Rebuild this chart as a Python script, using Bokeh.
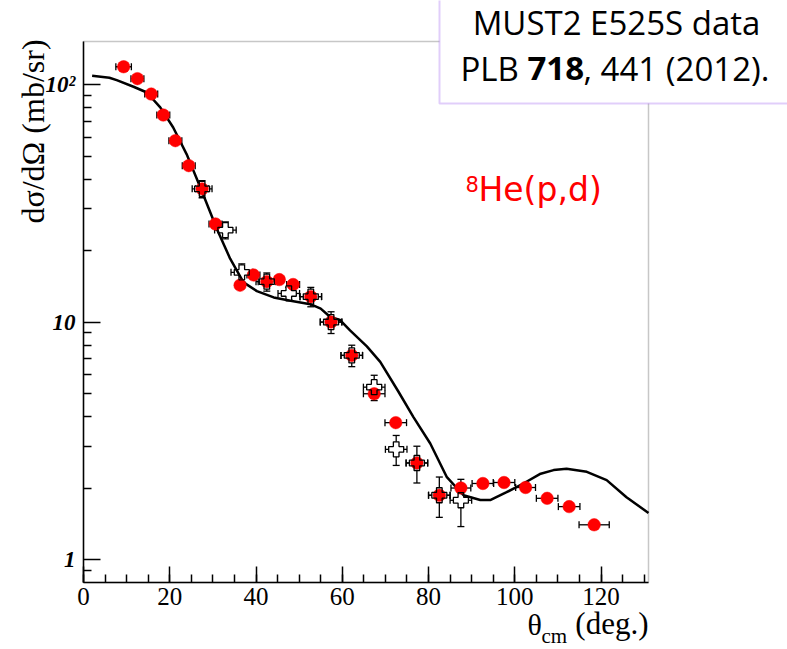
import math
from bokeh.plotting import figure
from bokeh.models import (ColumnDataSource, Whisker, TeeHead, Label, BoxAnnotation,
                          SingleIntervalTicker, FixedTicker)
from bokeh.embed import file_html
from bokeh.resources import INLINE

# ---------------- data ----------------
# red filled circles (MUST2 E525S data)
red_theta = [9.3, 12.5, 15.7, 18.5, 21.3, 24.4, 27.5, 30.6, 36.3, 39.4, 42.5, 45.4, 48.6,
             52.7, 57.4, 62.2, 67.4, 72.4, 77.3, 82.5, 87.5, 92.6, 97.5, 102.5, 107.5, 112.6, 118.4]
red_xs = [119.0, 106.0, 91.3, 74.5, 58.1, 45.6, 36.4, 25.9, 14.3, 15.8, 14.8, 15.1, 14.4,
          12.8, 10.0, 7.24, 4.99, 3.77, 2.55, 1.865, 2.00, 2.09, 2.11, 2.01, 1.81, 1.67, 1.40]
red_theta_err = [1.8, 1.5, 1.5, 1.5, 1.5, 1.5, 1.5, 1.5, 1.0, 1.5, 2.0, 1.0, 1.5,
                 2.5, 2.5, 2.5, 2.5, 2.5, 2.5, 2.5, 2.3, 2.5, 2.5, 2.3, 2.5, 2.5, 3.5]

# open crosses (earlier data)
cross_theta = [27.5, 32.9, 36.7, 42.5, 47.6, 52.7, 57.4, 62.2, 67.4, 72.5, 77.3, 82.5, 87.5]
cross_xs = [36.4, 24.4, 16.2, 14.8, 13.2, 12.8, 10.0, 7.24, 5.32, 2.91, 2.55, 1.865, 1.776]
cross_xs_err = [3.0, 2.0, 1.4, 1.3, 0.8, 1.2, 1.05, 0.75, 0.65, 0.42, 0.45, 0.36, 0.40]
cross_theta_err = [2.3, 2.5, 2.5, 2.5, 2.5, 2.5, 2.5, 2.5, 2.5, 2.5, 2.5, 2.5, 2.5]

# theory curve
curve_theta = [2.0, 6.0, 7.7, 11.6, 14.7, 17.8, 20.8, 23.9, 25.5, 27.1, 31.0, 34.0, 37.1,
               40.2, 44.1, 48.0, 52.6, 55.0, 57.2, 59.5, 61.8, 65.7, 68.8, 73.0, 76.5,
               80.4, 84.2, 88.1, 92.0, 94.3, 98.1, 102.0, 105.8, 109.0, 112.0, 116.7,
               121.3, 125.9, 131.0]
curve_xs = [109.0, 107.0, 104.5, 98.0, 92.7, 80.2, 66.0, 51.0, 43.4, 36.9, 24.5, 18.5, 14.7,
            13.5, 12.7, 12.3, 11.9, 11.4, 10.5, 10.2, 9.22, 7.9, 6.8, 5.1, 3.98,
            3.08, 2.23, 1.865, 1.78, 1.78, 1.92, 2.09, 2.29, 2.38, 2.41, 2.34,
            2.16, 1.83, 1.57]

x_major_interval = 20
y_major_ticks = [1, 10, 100]
y_tick_labels = {1: "1", 10: "10", 100: "10\u00b2"}
x_bounds = (0, 131)        # axis extent (plot box)
y_bounds = (0.8, 152)

# ---------------- layout geometry (canvas pixels) ----------------
W, H = 787, 649
box_l, box_r, box_t, box_b = 83, 648, 41, 582      # plot box inside the canvas
sx = (box_r - box_l) / (x_bounds[1] - x_bounds[0])
x_view = (x_bounds[0] - box_l / sx, x_bounds[1] + (W - box_r) / sx)
dec = (box_b - box_t) / (math.log10(y_bounds[1]) - math.log10(y_bounds[0]))
y_view = (10 ** (math.log10(y_bounds[0]) - (H - box_b) / dec),
          10 ** (math.log10(y_bounds[1]) + box_t / dec))

p = figure(frame_width=W, frame_height=H, min_border=0,
           x_range=x_view, y_range=y_view, y_axis_type="log",
           output_backend="svg", toolbar_location=None)
p.grid.visible = False
p.outline_line_color = None
p.background_fill_color = "white"
p.border_fill_color = "white"

# plot box (top / right edges)
p.add_layout(BoxAnnotation(left=x_bounds[0], right=x_bounds[1], bottom=y_bounds[0], top=y_bounds[1],
                           fill_alpha=0, line_color="#444444", line_width=1.5, level="underlay"))

# x axis
xa = p.xaxis[0]
xa.fixed_location = y_bounds[0]
xa.bounds = x_bounds
xa.ticker = SingleIntervalTicker(interval=x_major_interval, num_minor_ticks=4)
xa.major_tick_in = 16
xa.major_tick_out = 0
xa.minor_tick_in = 8
xa.minor_tick_out = 0
xa.axis_line_color = "black"
xa.axis_line_width = 1.5
xa.major_tick_line_width = 1.5
xa.minor_tick_line_width = 1.5
xa.major_label_text_font = "Liberation Serif"
xa.major_label_text_font_size = "25px"
xa.major_label_text_color = "black"
xa.major_label_standoff = 5

# y axis
ya = p.yaxis[0]
ya.fixed_location = x_bounds[0]
ya.bounds = y_bounds
minor = [m * 10 ** k for k in (-1, 0, 1, 2) for m in range(2, 10)] + [0.9]
ya.ticker = FixedTicker(ticks=y_major_ticks,
                        minor_ticks=[t for t in minor if y_bounds[0] < t < y_bounds[1]])
ya.major_label_overrides = y_tick_labels
ya.major_tick_in = 17
ya.major_tick_out = 0
ya.minor_tick_in = 8
ya.minor_tick_out = 0
ya.axis_line_color = "black"
ya.axis_line_width = 1.5
ya.major_tick_line_width = 1.5
ya.minor_tick_line_width = 1.5
ya.major_label_text_font = "Liberation Serif"
ya.major_label_text_font_style = "bold italic"
ya.major_label_text_font_size = "23px"
ya.major_label_text_color = "black"
ya.major_label_standoff = 8

# ---------------- sources ----------------
red_src = ColumnDataSource(dict(
    x=red_theta, y=red_xs,
    xl=[a - e for a, e in zip(red_theta, red_theta_err)],
    xu=[a + e for a, e in zip(red_theta, red_theta_err)]))
cross_src = ColumnDataSource(dict(
    x=cross_theta, y=cross_xs,
    xl=[a - e for a, e in zip(cross_theta, cross_theta_err)],
    xu=[a + e for a, e in zip(cross_theta, cross_theta_err)],
    yl=[a - e for a, e in zip(cross_xs, cross_xs_err)],
    yu=[a + e for a, e in zip(cross_xs, cross_xs_err)]))


def head():
    return TeeHead(size=7, line_color="black", line_width=1.3)


for src, dims in ((cross_src, ("width", "height")), (red_src, ("width",))):
    for d in dims:
        if d == "width":
            w = Whisker(source=src, base="y", lower="xl", upper="xu", dimension="width",
                        line_color="black", line_width=1.3, upper_head=head(), lower_head=head(),
                        level="underlay")
        else:
            w = Whisker(source=src, base="x", lower="yl", upper="yu", dimension="height",
                        line_color="black", line_width=1.3, upper_head=head(), lower_head=head(),
                        level="underlay")
        p.add_layout(w)

# cross background (white) to hide error-bar lines inside the marker
p.scatter("x", "y", source=cross_src, marker="plus", size=15, fill_color="white",
          line_color=None)
# theory curve
p.line(curve_theta, curve_xs, line_color="black", line_width=2.5)
# red circles
p.scatter("x", "y", source=red_src, marker="circle", size=12.5, fill_color="#ff0000",
          line_color="#ff0000", line_width=0.5)
# open crosses on top
p.scatter("x", "y", source=cross_src, marker="plus", size=15, fill_color=None,
          line_color="black", line_width=1.3)


# ---------------- texts (canvas pixel positions, y = baseline measured from the top) ----------------
def put(x, y, text, font, size, color="black", align="left", baseline="alphabetic",
        angle=0.0, style="normal", level="annotation"):
    px = float(size.replace("px", ""))
    if baseline == "alphabetic":
        y = y - 0.45 * px          # renderer places alphabetic text a little low
    p.add_layout(Label(x=x, y=H - y, x_units="screen", y_units="screen", text=text,
                       angle=angle, text_align=align, text_baseline=baseline,
                       text_font=font, text_font_size=size, text_font_style=style,
                       text_color=color, level=level))


# axis titles
put(32, 131, "d\u03c3/d\u03a9 (mb/sr)", "Liberation Serif", "32px", align="center",
    baseline="middle", angle=math.pi / 2)
put(527, 637, "\u03b8", "Liberation Serif", "30px")
put(541, 645, "cm", "Liberation Serif", "21px")
put(648, 637, "(deg.)", "Liberation Serif", "31px", align="right")

# reaction label
put(465, 193, "8", "DejaVu Sans", "21px", color="#ff0000")
put(478, 204, "He(p,d)", "DejaVu Sans", "33px", color="#ff0000")

# citation box
p.add_layout(BoxAnnotation(left=439, right=W + 20, bottom=H - 103, top=H + 20,
                           left_units="screen", right_units="screen",
                           bottom_units="screen", top_units="screen",
                           fill_color="white", fill_alpha=1.0,
                           line_color="#9a5cf0", line_width=2, level="overlay"))
put(616, 37, "MUST2 E525S data", "Open Sans", "33px", align="center", level="overlay")
put(460, 83, "PLB", "Open Sans", "33px", level="overlay")
put(527, 83, "718", "Open Sans", "33px", style="bold", level="overlay")
put(583, 83, ", 441 (2012).", "Open Sans", "33px", level="overlay")

open("out.html", "w").write(file_html(p, INLINE))
